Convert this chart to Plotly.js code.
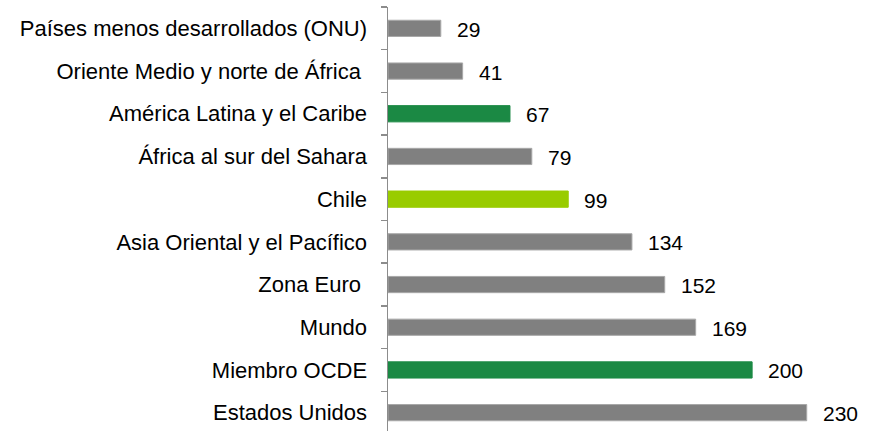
<!DOCTYPE html>
<html>
<head>
<meta charset="utf-8">
<script src="https://cdn.plot.ly/plotly-3.0.1.min.js"></script>
<style>html,body{margin:0;padding:0;background:#fff;}#chart{width:877px;height:431px;}</style>
</head>
<body>
<div id="chart"></div>
<script>
var categories = ["Países menos desarrollados (ONU)", "Oriente Medio y norte de África ", "América Latina y el Caribe", "África al sur del Sahara", "Chile", "Asia Oriental y el Pacífico", "Zona Euro ", "Mundo", "Miembro OCDE", "Estados Unidos"];
var values = [29, 41, 67, 79, 99, 134, 152, 169, 200, 230];
var barColors = ["#808080", "#808080", "#1b8944", "#808080", "#99cc00", "#808080", "#808080", "#808080", "#1b8944", "#808080"];
var lineColors = ["#a8a8a8", "#a8a8a8", "#1b8944", "#a8a8a8", "#99cc00", "#a8a8a8", "#a8a8a8", "#a8a8a8", "#1b8944", "#a8a8a8"];

var FONT = "Liberation Sans, Arial, sans-serif";

var trace = {
  type: "bar",
  orientation: "h",
  y: categories,
  x: values,
  width: 0.38,
  marker: {color: barColors, line: {color: lineColors, width: 1}},
  hoverinfo: "none"
};

var annotations = values.map(function(v, i) {
  return {
    x: v, y: categories[i], xref: "x", yref: "y",
    text: String(v), showarrow: false,
    xanchor: "left", yanchor: "middle", xshift: 14, yshift: -1,
    font: {family: FONT, size: 21, color: "#000"}
  };
});

var layout = {
  width: 877, height: 431,
  margin: {l: 388, r: 0, t: 7, b: 0, pad: 0},
  paper_bgcolor: "#fff", plot_bgcolor: "#fff",
  showlegend: false,
  font: {family: FONT, size: 21, color: "#000"},
  xaxis: {
    range: [0, 268.6], visible: false, showgrid: false, zeroline: false, fixedrange: true
  },
  yaxis: {
    type: "category",
    categoryorder: "array", categoryarray: categories,
    range: [9.43, -0.5],
    showline: true, linecolor: "#8c8c8c", linewidth: 1.5,
    ticks: "outside", tickson: "boundaries", ticklen: 6, tickcolor: "#8c8c8c", tickwidth: 1.5,
    ticklabelstandoff: 15,
    showgrid: false, zeroline: false,
    tickfont: {family: FONT, size: 22, color: "#000"}
  },
  annotations: annotations
};

Plotly.newPlot("chart", [trace], layout, {staticPlot: true, displayModeBar: false});
</script>
</body>
</html>
